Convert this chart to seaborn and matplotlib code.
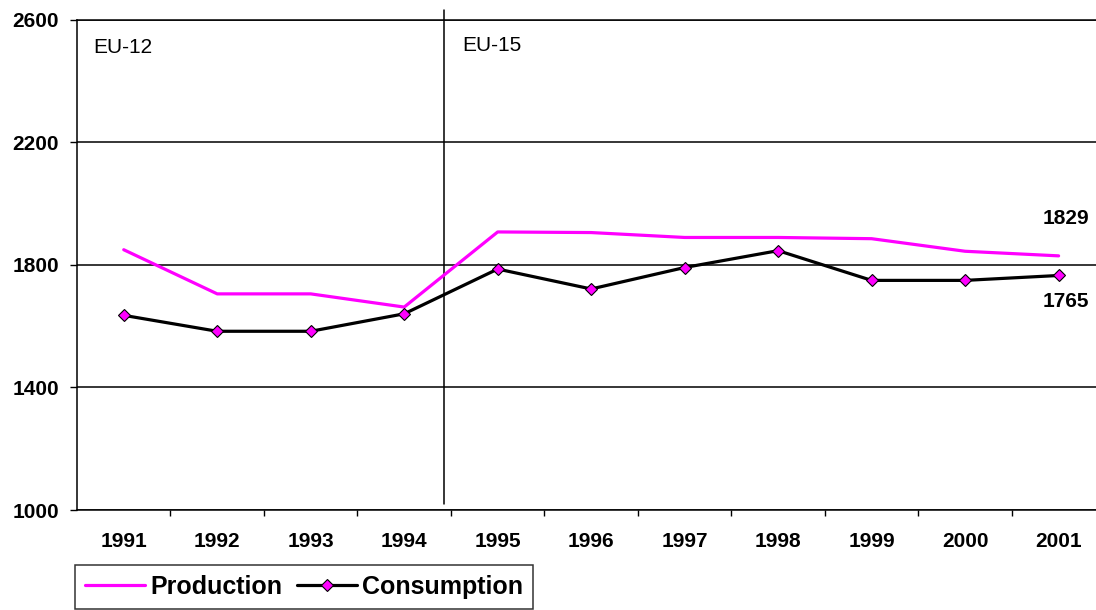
import numpy as np
import pandas as pd
import matplotlib
matplotlib.use("Agg")
import matplotlib.pyplot as plt
import seaborn as sns

# data
years = ['1991', '1992', '1993', '1994', '1995', '1996',
         '1997', '1998', '1999', '2000', '2001']
production = [1849, 1705, 1705, 1662, 1907, 1905, 1889, 1889, 1885, 1844, 1829]
consumption = [1635, 1583, 1583, 1640, 1786, 1721, 1791, 1846, 1749, 1749, 1765]
region_labels = ['EU-12', 'EU-15']

sns.set_theme(style='white')
plt.rcParams['font.family'] = ['Liberation Sans', 'DejaVu Sans']
plt.rcParams['text.color'] = 'black'
plt.rcParams['xtick.color'] = 'black'
plt.rcParams['ytick.color'] = 'black'

pos = np.arange(len(years))
df = pd.DataFrame({'pos': pos, 'Production': production, 'Consumption': consumption})

fig = plt.figure(figsize=(10.96, 6.10), dpi=100)
ax = fig.add_axes([77 / 1096, 100 / 610, 1 - 77 / 1096, 490.5 / 610])

sns.lineplot(data=df, x='pos', y='Production', ax=ax, color='#ff00ff',
             linewidth=2.3, label='Production', zorder=3)
sns.lineplot(data=df, x='pos', y='Consumption', ax=ax, color='black',
             linewidth=2.3, marker='D', markersize=6.5, markerfacecolor='#ff00ff',
             markeredgecolor='black', markeredgewidth=0.8, label='Consumption', zorder=4)

ax.set_xlim(-0.5, 10.4)
ax.set_ylim(1000, 2600)
ax.set_yticks([1000, 1400, 1800, 2200, 2600])
ax.set_xticks(pos)
ax.set_xticklabels(years)
ax.set_xticks(pos[:-1] + 0.5, minor=True)
ax.set_xlabel('')
ax.set_ylabel('')

ax.grid(axis='y', color='black', linewidth=1.1)
ax.set_axisbelow(True)
for side in ['left', 'bottom', 'top']:
    ax.spines[side].set_color('black')
    ax.spines[side].set_linewidth(1.1)
ax.spines['right'].set_visible(False)

ax.tick_params(axis='x', which='major', length=0, pad=16, labelsize=15)
ax.tick_params(axis='x', which='minor', bottom=True, length=4, width=1, color='black', direction='out')
ax.tick_params(axis='y', left=True, length=5, width=1, color='black', pad=8, labelsize=15)
for lab in ax.get_xticklabels() + ax.get_yticklabels():
    lab.set_fontweight('bold')

# EU-12 / EU-15 divider
divider_x = 3.425
ax.axvline(divider_x, ymin=0.0125, ymax=1.019, color='black', linewidth=1.1, clip_on=False)
ax.text(-0.33, 2508, region_labels[0], fontsize=15, va='center', ha='left')
ax.text(divider_x + 0.2, 2515, region_labels[1], fontsize=15, va='center', ha='left')

# end-value labels
ax.annotate(str(production[-1]), (pos[-1], production[-1]), xytext=(5, 27),
            textcoords='offset points', ha='center', va='center',
            fontsize=15, fontweight='bold')
ax.annotate(str(consumption[-1]), (pos[-1], consumption[-1]), xytext=(5, -19),
            textcoords='offset points', ha='center', va='center',
            fontsize=15, fontweight='bold')

ax.legend_.remove()
handles, labels = ax.get_legend_handles_labels()
leg = fig.legend(handles, labels, loc='upper left', bbox_to_anchor=(75 / 1096, 45 / 610),
                 borderaxespad=0, ncol=2, frameon=True, fancybox=False, handlelength=2.4,
                 columnspacing=0.6, handletextpad=0.2, borderpad=0.4,
                 prop={'weight': 'bold', 'size': 18})
leg.get_frame().set_edgecolor('black')
leg.get_frame().set_linewidth(1.1)

fig.savefig('out.png', dpi=100)
